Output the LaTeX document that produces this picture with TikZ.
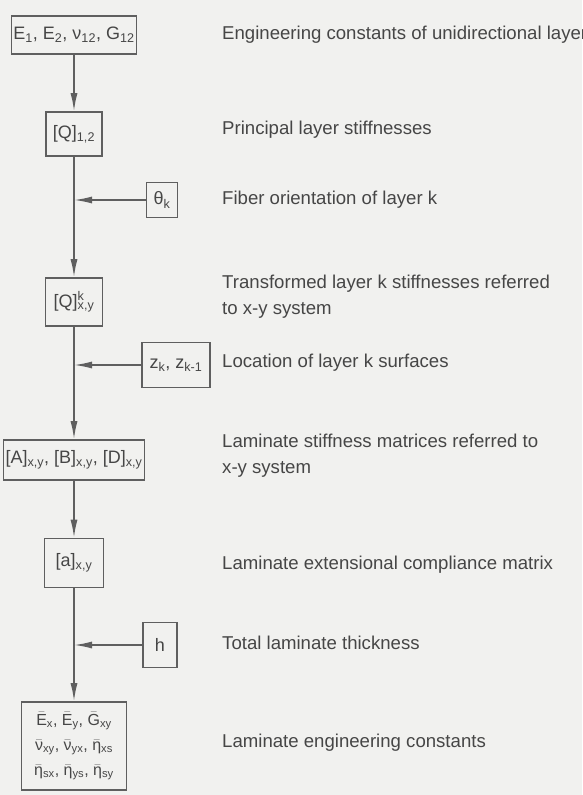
\documentclass[tikz,border=0pt]{standalone}
\usepackage{fontspec}
\setmainfont{Liberation Sans}
\usepackage{tikz}
\usepackage{xcolor}
\usetikzlibrary{arrows.meta, positioning}
\definecolor{paper}{RGB}{241,241,239}
\definecolor{inkline}{RGB}{95,95,95}
\definecolor{inktext}{RGB}{70,70,70}
\newcommand{\barsym}[1]{$\bar{\mbox{#1}}$}
\tikzset{
  stepbox/.style={rectangle,draw=inkline,line width=1.6pt,fill=paper,inner sep=2pt,
    text=inktext,font=\fontsize{18}{23}\selectfont,align=center},
  inbox/.style={stepbox},
  desc/.style={anchor=west,text=inktext,font=\fontsize{18.6}{26}\selectfont,align=left,inner sep=0pt},
  flow/.style={-{Latex[length=18pt,width=7pt]},line width=1.6pt,inkline},
}

\begin{document}
\begin{tikzpicture}[x=1pt,y=-1pt]
  \path[use as bounding box] (0,0) rectangle (582,795);
  \clip (0,0) rectangle (582,795);
  \fill[paper] (0,0) rectangle (582,795);
  % main column
  \node[stepbox,minimum width=122pt,minimum height=38pt] (E)   at (74,35)  {E\textsubscript{1}, E\textsubscript{2}, ν\textsubscript{12}, G\textsubscript{12}};
  \node[stepbox,minimum width=56pt,minimum height=44pt]  (Q12) at (74,134) {[Q]\textsubscript{1,2}};
  \node[stepbox,minimum width=57pt,minimum height=48pt]  (Qk)  at (74,302) {[Q]\rlap{\textsuperscript{k}}\textsubscript{x,y}};
  \node[stepbox,minimum width=135pt,minimum height=40pt] (ABD) at (74,460) {[A]\textsubscript{x,y}, [B]\textsubscript{x,y}, [D]\textsubscript{x,y}};
  \node[stepbox,minimum width=59pt,minimum height=49pt]  (a)   at (74,563) {[a]\textsubscript{x,y}};
  \node[stepbox,minimum width=105pt,minimum height=88pt,font=\fontsize{16}{25}\selectfont] (Lam) at (74,746)
    {\barsym{E}\textsubscript{x}, \barsym{E}\textsubscript{y}, \barsym{G}\textsubscript{xy}\\
     \barsym{ν}\textsubscript{xy}, \barsym{ν}\textsubscript{yx}, \barsym{η}\textsubscript{xs}\\
     \barsym{η}\textsubscript{sx}, \barsym{η}\textsubscript{ys}, \barsym{η}\textsubscript{sy}};
  % side inputs
  \node[inbox,minimum width=31pt,minimum height=35pt] (th) at (162,200) {θ\textsubscript{k}};
  \node[inbox,minimum width=68pt,minimum height=45pt] (zk) at (176,365) {z\textsubscript{k}, z\textsubscript{k-1}};
  \node[inbox,minimum width=34pt,minimum height=45pt] (hh) at (160,645) {h};
  \coordinate (j1) at (74,200);
  \coordinate (j2) at (74,365);
  \coordinate (j3) at (74,645);
  % connectors
  \draw[flow] (E) -- (Q12);
  \draw[flow] (Q12) -- (Qk);
  \draw[flow] (th) -- (j1);
  \draw[flow] (Qk) -- (ABD);
  \draw[flow] (zk) -- (j2);
  \draw[flow] (ABD) -- (a);
  \draw[flow] (a) -- (Lam);
  \draw[flow] (hh) -- (j3);
  % descriptions
  \node[desc] (dE)   at (222,35)  {Engineering constants of unidirectional layer};
  \node[desc] (dQ12) at (222,130) {Principal layer stiffnesses};
  \node[desc] (dth)  at (222,200) {Fiber orientation of layer k};
  \node[desc] (dQk)  at (222,297) {Transformed layer k stiffnesses referred\\to x-y system};
  \node[desc] (dzk)  at (222,363) {Location of layer k surfaces};
  \node[desc] (dABD) at (222,456) {Laminate stiffness matrices referred to\\x-y system};
  \node[desc] (da)   at (222,565) {Laminate extensional compliance matrix};
  \node[desc] (dhh)  at (222,643) {Total laminate thickness};
  \node[desc] (dLam) at (222,743) {Laminate engineering constants};
\end{tikzpicture}
\end{document}
